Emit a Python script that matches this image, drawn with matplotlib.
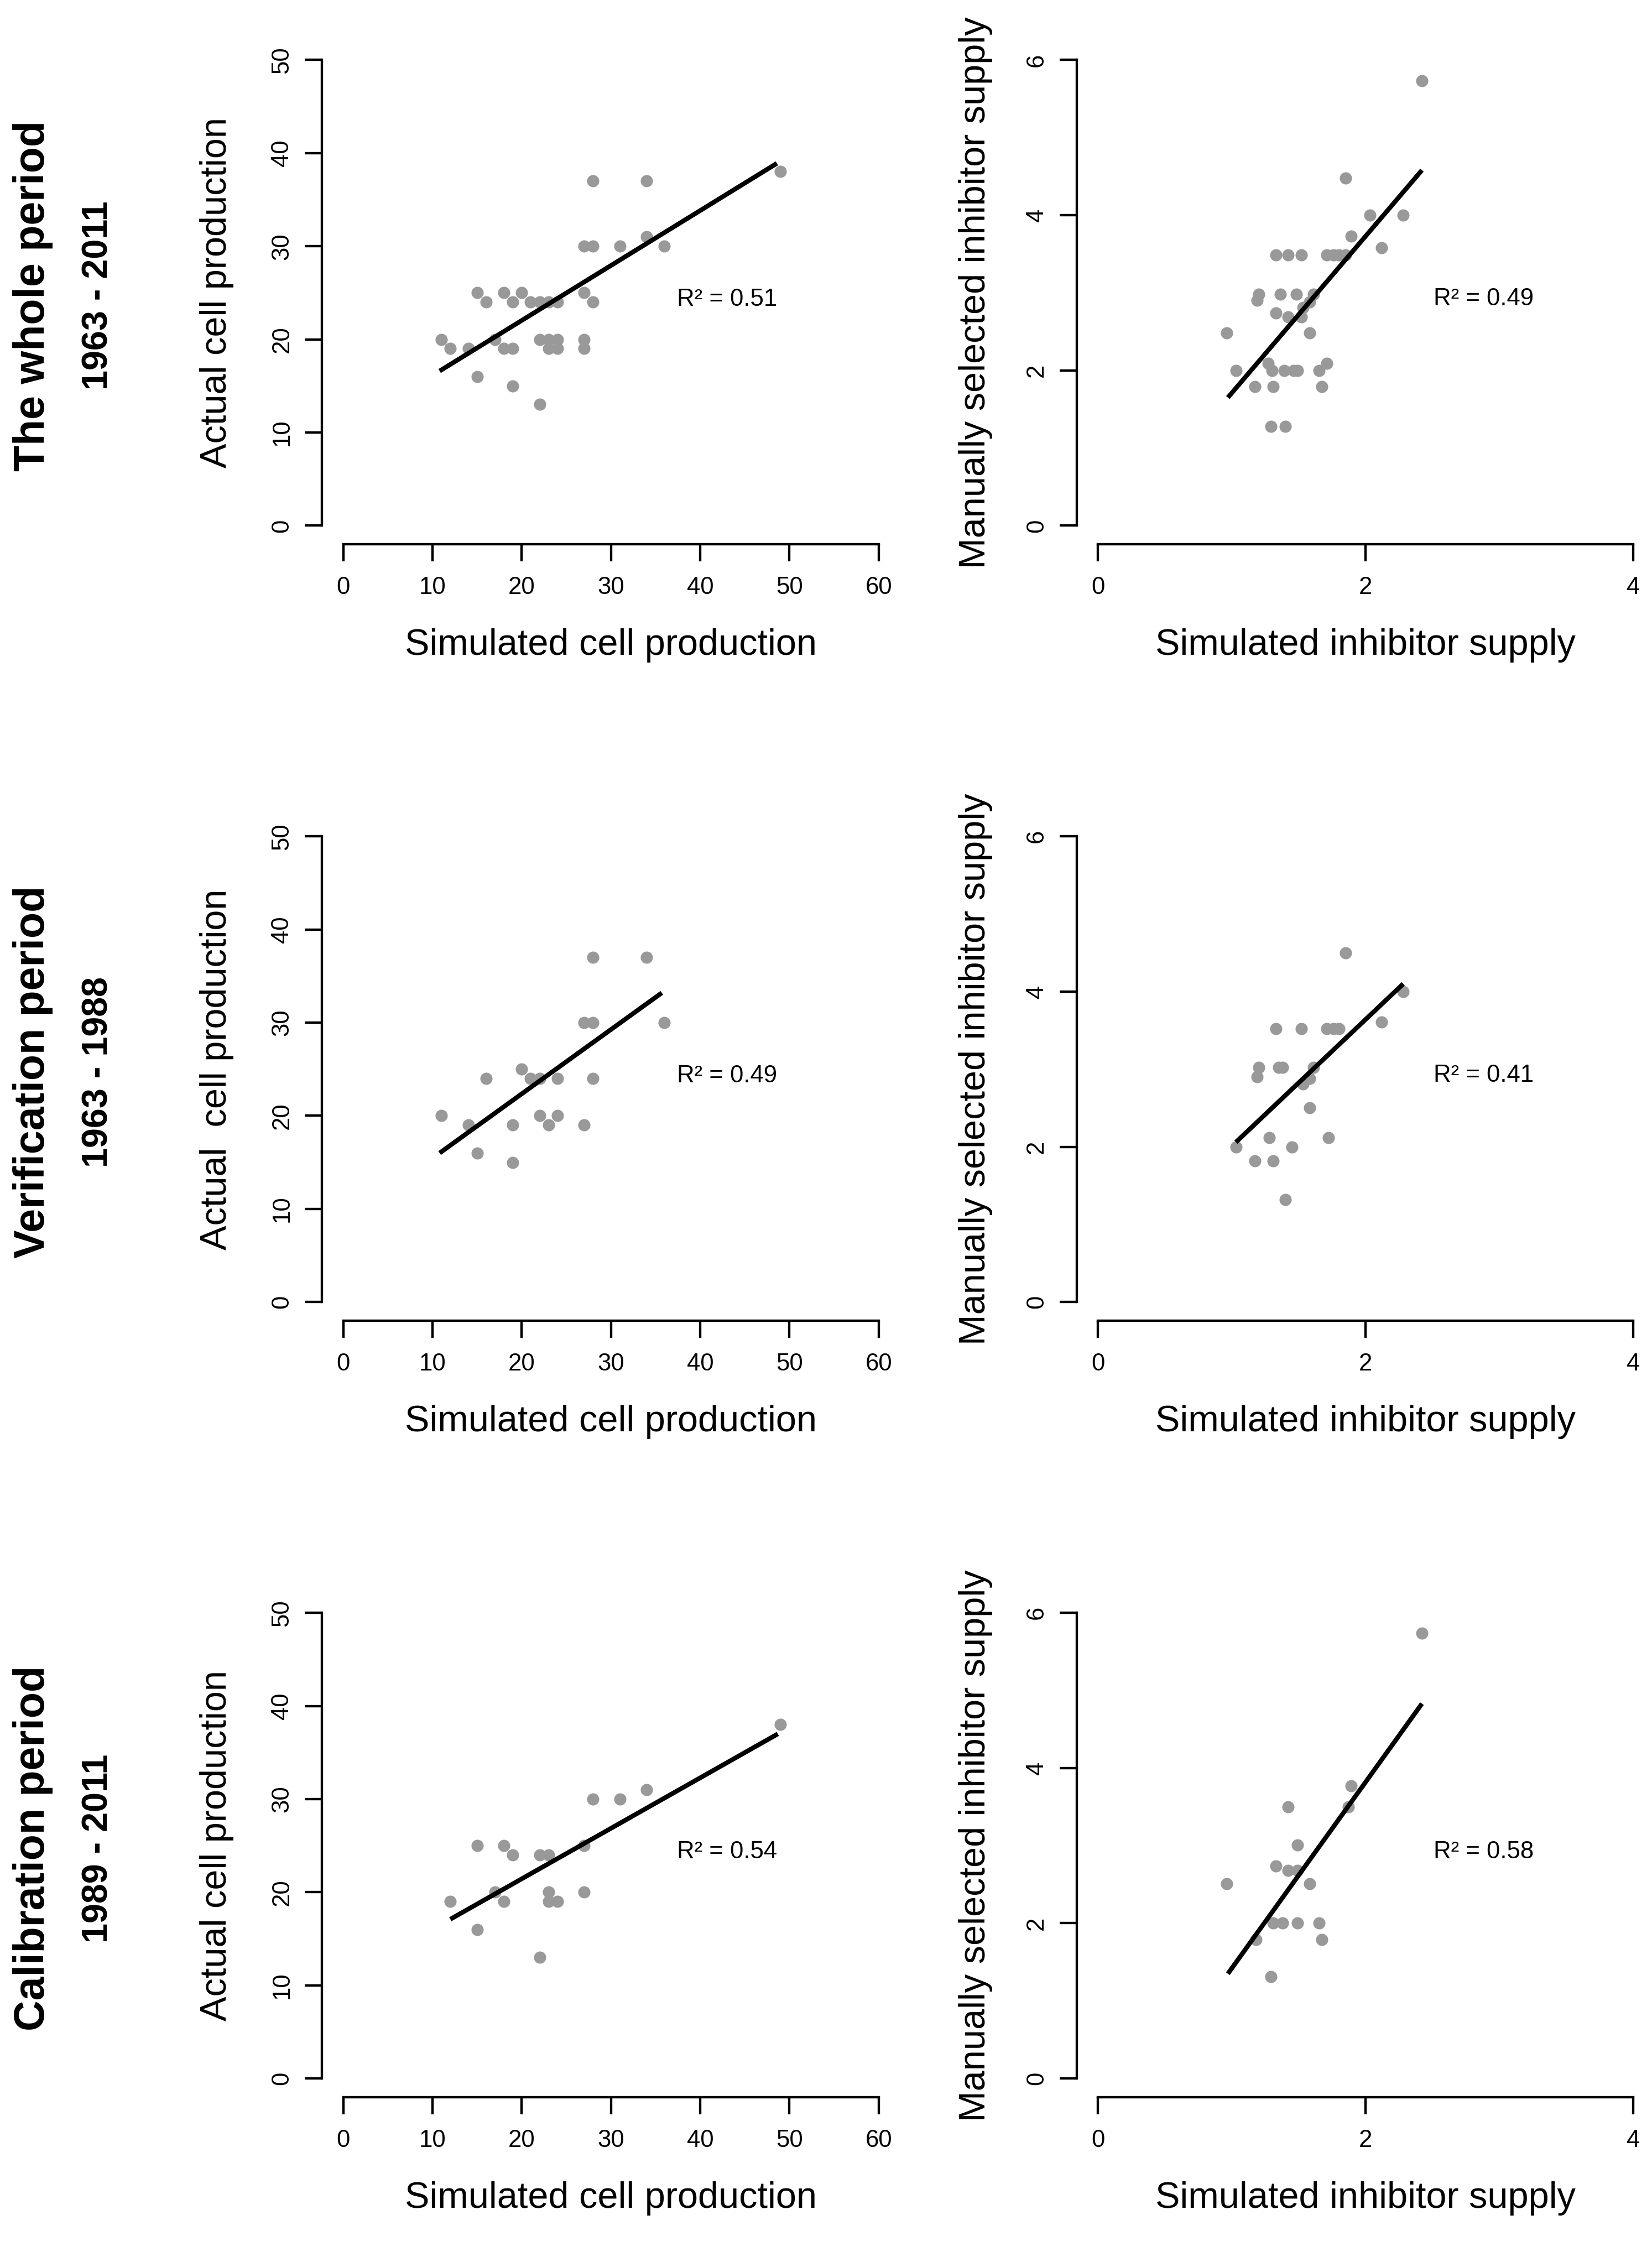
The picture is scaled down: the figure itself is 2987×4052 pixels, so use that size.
import matplotlib
matplotlib.use('Agg')
import matplotlib.pyplot as plt

plt.rcParams['font.family'] = ['Liberation Sans', 'DejaVu Sans']

# ---------------- data ----------------
row_titles = ["The whole period", "Verification period", "Calibration period"]
row_years = ["1963 - 2011", "1963 - 1988", "1989 - 2011"]

cell_ylabels = ["Actual cell production", "Actual  cell production", "Actual cell production"]
cell_xlabel = "Simulated cell production"
inh_ylabel = "Manually selected inhibitor supply"
inh_xlabel = "Simulated inhibitor supply"

cell_xticks = [0, 10, 20, 30, 40, 50, 60]
cell_yticks = [0, 10, 20, 30, 40, 50]
inh_xticks = [0, 2, 4]
inh_yticks = [0, 2, 4, 6]

# whole period 1963-2011
whole_cell_sim = [28, 34, 49, 27, 28, 31, 34, 36, 15, 16, 18, 19, 20, 21, 22, 23, 24, 27, 28,
                  11, 12, 14, 17, 18, 19, 22, 23, 24, 23, 24, 27, 27, 15, 19, 22]
whole_cell_obs = [37, 37, 38, 30, 30, 30, 31, 30, 25, 24, 25, 24, 25, 24, 24, 24, 24, 25, 24,
                  20, 19, 19, 20, 19, 19, 20, 20, 20, 19, 19, 20, 19, 16, 15, 13]
whole_inh_sim = [2.42, 1.85, 2.03, 2.28, 1.89, 2.12, 1.33, 1.42, 1.52, 1.71, 1.76, 1.80, 1.85,
                 1.20, 1.36, 1.48, 1.61, 1.19, 1.33, 1.42, 1.52, 1.53, 1.58, 0.96, 1.58,
                 1.03, 1.30, 1.39, 1.46, 1.49, 1.65, 1.27, 1.71, 1.17, 1.31, 1.67, 1.29, 1.40]
whole_inh_obs = [5.73, 4.48, 4.00, 4.00, 3.73, 3.58, 3.49, 3.49, 3.49, 3.49, 3.49, 3.49, 3.49,
                 2.98, 2.98, 2.98, 2.98, 2.90, 2.74, 2.69, 2.69, 2.81, 2.88, 2.48, 2.48,
                 2.00, 2.00, 2.00, 2.00, 2.00, 2.00, 2.09, 2.09, 1.79, 1.79, 1.79, 1.28, 1.28]

# verification period 1963-1988
verif_cell_sim = [11, 14, 15, 16, 19, 19, 20, 21, 22, 22, 23, 24, 24, 27, 27, 28, 28, 28, 34, 36]
verif_cell_obs = [20, 19, 16, 24, 19, 15, 25, 24, 24, 20, 19, 24, 20, 19, 30, 30, 37, 24, 37, 30]
verif_inh_sim = [1.85, 2.28, 2.12, 1.33, 1.52, 1.71, 1.76, 1.80, 1.20, 1.19, 1.35, 1.38,
                 1.61, 1.58, 1.53, 1.58, 1.03, 1.28, 1.45, 1.72, 1.17, 1.31, 1.40]
verif_inh_obs = [4.50, 4.00, 3.61, 3.52, 3.52, 3.52, 3.52, 3.52, 3.02, 2.90, 3.02, 3.02,
                 3.02, 2.88, 2.81, 2.50, 2.00, 2.12, 2.00, 2.12, 1.82, 1.82, 1.32]

# calibration period 1989-2011
calib_cell_sim = [49, 34, 28, 31, 15, 18, 19, 22, 23, 27, 12, 17, 18, 23, 23, 24, 27, 15, 22]
calib_cell_obs = [38, 31, 30, 30, 25, 25, 24, 24, 24, 25, 19, 20, 19, 20, 19, 19, 20, 16, 13]
calib_inh_sim = [2.42, 1.89, 1.87, 1.42, 1.49, 1.33, 1.42, 1.49, 0.96, 1.58,
                 1.31, 1.38, 1.49, 1.65, 1.18, 1.67, 1.29]
calib_inh_obs = [5.74, 3.77, 3.50, 3.50, 3.01, 2.74, 2.68, 2.68, 2.51, 2.51,
                 2.00, 2.00, 2.00, 2.00, 1.79, 1.79, 1.31]

# regression lines (end points)
fit_whole_cell_x = [10.8, 48.6]
fit_whole_cell_y = [16.6, 38.9]
fit_verif_cell_x = [10.8, 35.7]
fit_verif_cell_y = [16.0, 33.2]
fit_calib_cell_x = [12.0, 48.7]
fit_calib_cell_y = [17.1, 37.0]
fit_whole_inh_x = [0.97, 2.42]
fit_whole_inh_y = [1.65, 4.58]
fit_verif_inh_x = [1.03, 2.28]
fit_verif_inh_y = [2.06, 4.10]
fit_calib_inh_x = [0.97, 2.42]
fit_calib_inh_y = [1.35, 4.83]

r2_cell = ["R\u00b2 = 0.51", "R\u00b2 = 0.49", "R\u00b2 = 0.54"]
r2_inh = ["R\u00b2 = 0.49", "R\u00b2 = 0.41", "R\u00b2 = 0.58"]

# ---------------- layout ----------------
W, H = 1160.0, 1573.0          # layout grid (reference scaled 1/2.575)
row_bottom = [382, 927, 1472]
col_left = [226, 756]
aw, ah = 406, 353

PT_COLOR = '#999999'

fig = plt.figure(figsize=(2987 / 300, 4052 / 300), dpi=300)

cell_sets = [(whole_cell_sim, whole_cell_obs, fit_whole_cell_x, fit_whole_cell_y),
             (verif_cell_sim, verif_cell_obs, fit_verif_cell_x, fit_verif_cell_y),
             (calib_cell_sim, calib_cell_obs, fit_calib_cell_x, fit_calib_cell_y)]
inh_sets = [(whole_inh_sim, whole_inh_obs, fit_whole_inh_x, fit_whole_inh_y),
            (verif_inh_sim, verif_inh_obs, fit_verif_inh_x, fit_verif_inh_y),
            (calib_inh_sim, calib_inh_obs, fit_calib_inh_x, fit_calib_inh_y)]


def style_axes(ax, xticks, yticks):
    xr = xticks[-1] - xticks[0]
    yr = yticks[-1] - yticks[0]
    ax.set_xlim(xticks[0] - 0.04 * xr, xticks[-1] + 0.04 * xr)
    ax.set_ylim(yticks[0] - 0.04 * yr, yticks[-1] + 0.04 * yr)
    ax.set_xticks(xticks)
    ax.set_yticks(yticks)
    ax.set_xticklabels([str(t) for t in xticks])
    ax.set_yticklabels([str(t) for t in yticks])
    for s in ['top', 'right']:
        ax.spines[s].set_visible(False)
    ax.spines['left'].set_bounds(yticks[0], yticks[-1])
    ax.spines['bottom'].set_bounds(xticks[0], xticks[-1])
    for s in ['left', 'bottom']:
        ax.spines[s].set_linewidth(1.05)
    ax.tick_params(direction='out', length=7.4, width=1.05, labelsize=10.5, colors='black')
    ax.tick_params(axis='x', pad=6.5)
    ax.tick_params(axis='y', pad=5, labelrotation=90)
    for lbl in ax.get_yticklabels():
        lbl.set_va('center')
    ax.patch.set_alpha(0)


for r in range(3):
    bottom = 1 - row_bottom[r] / H
    # left: cell production
    ax = fig.add_axes([col_left[0] / W, bottom, aw / W, ah / H])
    sx, sy, fx, fy = cell_sets[r]
    ax.plot(sx, sy, 'o', color=PT_COLOR, ms=5.3, mec='none', zorder=2, clip_on=False)
    ax.plot(fx, fy, color='black', lw=2.0, solid_capstyle='butt', zorder=3)
    style_axes(ax, cell_xticks, cell_yticks)
    ax.text(43, 24.3, r2_cell[r], ha='center', va='center', fontsize=10.5)
    ax.text(-0.182, 0.5, cell_ylabels[r], transform=ax.transAxes, rotation=90,
            ha='center', va='center', fontsize=16)
    ax.text(0.5, -0.201, cell_xlabel, transform=ax.transAxes,
            ha='center', va='center', fontsize=16)

    # right: inhibitor supply
    ax = fig.add_axes([col_left[1] / W, bottom, aw / W, ah / H])
    sx, sy, fx, fy = inh_sets[r]
    ax.plot(sx, sy, 'o', color=PT_COLOR, ms=5.3, mec='none', zorder=2, clip_on=False)
    ax.plot(fx, fy, color='black', lw=2.0, solid_capstyle='butt', zorder=3)
    style_axes(ax, inh_xticks, inh_yticks)
    ax.text(2.88, 2.92, r2_inh[r], ha='center', va='center', fontsize=10.5)
    ax.text(-0.175, 0.5, inh_ylabel, transform=ax.transAxes, rotation=90,
            ha='center', va='center', fontsize=16)
    ax.text(0.5, -0.201, inh_xlabel, transform=ax.transAxes,
            ha='center', va='center', fontsize=16)

    # row titles
    yc = 1 - (row_bottom[r] - ah / 2 + 2) / H
    fig.text(23 / W, yc, row_titles[r], rotation=90, ha='center', va='center',
             fontsize=18.5, fontweight='bold')
    fig.text(69 / W, yc, row_years[r], rotation=90, ha='center', va='center',
             fontsize=15.5, fontweight='bold')

fig.savefig('out.png', dpi=300, facecolor='white')
